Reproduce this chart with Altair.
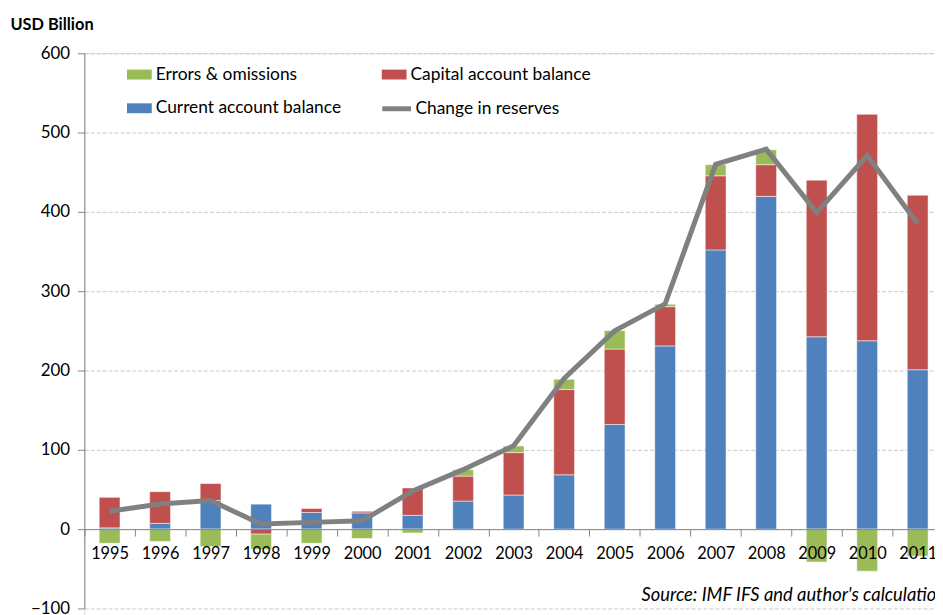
import altair as alt
import pandas as pd

years = ["1995", "1996", "1997", "1998", "1999", "2000", "2001", "2002", "2003",
         "2004", "2005", "2006", "2007", "2008", "2009", "2010", "2011"]
current_account = [1.6, 7.2, 36.2, 31.5, 21.0, 20.5, 17.4, 35.4, 43.0,
                   68.5, 132.0, 231.0, 352.0, 419.5, 242.5, 237.5, 201.0]
capital_account = [38.5, 40.0, 21.3, -6.3, 5.0, 2.0, 34.5, 31.5, 53.5,
                   107.5, 95.0, 49.5, 93.5, 40.0, 197.5, 285.5, 220.0]
errors_omissions = [-17.8, -15.5, -22.1, -19.2, -17.8, -11.8, -4.8, 8.0, 8.3,
                    13.0, 23.3, 3.0, 14.0, 18.8, -41.5, -53.0, -34.0]
change_in_reserves = [22.5, 31.7, 36.0, 6.4, 8.5, 10.5, 48.0, 75.0, 105.0,
                      190.0, 250.0, 284.0, 460.0, 479.0, 399.0, 471.0, 385.0]

# legend order (column-major fill): col 1 = Errors, Current; col 2 = Capital
series_names = ["Errors & omissions", "Current account balance", "Capital account balance"]
series_colors = ["#9BBB59", "#4F81BD", "#C0504D"]
line_name = "Change in reserves"
source_text = "Source: IMF IFS and author's calculation"

rows = []
for i, y in enumerate(years):
    rows.append({"year": y, "series": "Current account balance", "value": current_account[i], "ord": 0})
    rows.append({"year": y, "series": "Capital account balance", "value": capital_account[i], "ord": 1})
    rows.append({"year": y, "series": "Errors & omissions", "value": errors_omissions[i], "ord": 2})
bar_df = pd.DataFrame(rows)
line_df = pd.DataFrame({"year": years, "reserves": change_in_reserves, "label": [line_name] * len(years)})

FONT = "Lato"
x_scale = alt.Scale(domain=years, range=[0, 866], paddingInner=0, paddingOuter=0)
y_scale = alt.Scale(domain=[-100, 600], range=[560, 0], nice=False, zero=False)

x_axis = alt.Axis(orient="bottom", offset=-87, title=None, labelAngle=0, tickBand="extent",
                  tickSize=7, domainColor="#868686", tickColor="#868686", labelPadding=10,
                  labelFontSize=16.5, labelFont=FONT, labelColor="#000000", grid=False, zindex=1)
y_axis = alt.Axis(values=[-100, 0, 100, 200, 300, 400, 500, 600], grid=True, gridDash=[4, 2],
                  gridColor="#C8C8C8", domainColor="#868686", tickColor="#868686", tickSize=7,
                  labelFontSize=17, labelFont=FONT, labelColor="#000000", labelPadding=8,
                  title="USD Billion", titleAngle=0, titleX=-75, titleY=-29, titleAlign="left",
                  titleBaseline="middle", titleFontWeight="bold", titleFontSize=16.5, titleFont=FONT,
                  titleColor="#000000")

bars = alt.Chart(bar_df).mark_bar(size=21, stroke="#FFFFFF", strokeWidth=1, strokeOpacity=0.5).encode(
    x=alt.X("year:N", sort=years, scale=x_scale, axis=x_axis),
    y=alt.Y("value:Q", stack="zero", scale=y_scale, axis=y_axis),
    color=alt.Color("series:N", scale=alt.Scale(domain=series_names, range=series_colors),
                    legend=alt.Legend(orient="none", legendX=43, legendY=9, columns=2, title=None,
                                      symbolType="M-1,-0.4H1V0.4H-1Z", symbolSize=625,
                                      symbolStrokeWidth=0, labelFontSize=17.5, labelFont=FONT,
                                      labelColor="#000000", labelOffset=4, rowPadding=13,
                                      columnPadding=40, labelLimit=400)),
    order=alt.Order("ord:Q"),
)

line = alt.Chart(line_df).mark_line(strokeWidth=5).encode(
    x=alt.X("year:N", sort=years, scale=x_scale),
    y=alt.Y("reserves:Q", scale=y_scale),
    stroke=alt.Stroke("label:N", scale=alt.Scale(domain=[line_name], range=["#808080"]),
                      legend=alt.Legend(orient="none", legendX=298, legendY=39, title=None,
                                        symbolType="stroke", symbolSize=841, symbolStrokeWidth=5,
                                        labelFontSize=17.5, labelFont=FONT, labelColor="#000000",
                                        labelOffset=2, labelLimit=400)),
)

source = alt.Chart(pd.DataFrame({"t": [source_text]})).mark_text(
    align="left", baseline="middle", fontStyle="italic", fontSize=18.5, font=FONT, color="#000000"
).encode(text="t:N", x=alt.value(562), y=alt.value(546))

chart = alt.layer(bars, line, source).properties(
    width=858, height=567,
    autosize=alt.AutoSizeParams(type="none"),
    padding={"left": 77, "top": 43, "right": 0, "bottom": 0},
).configure_view(stroke=None).configure(font=FONT)

chart.save("out.html", embed_options={"renderer": "svg", "actions": False})
